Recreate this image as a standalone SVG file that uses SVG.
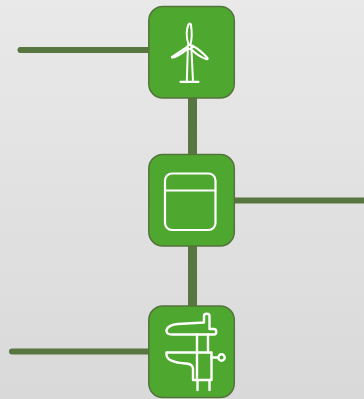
<svg xmlns="http://www.w3.org/2000/svg" width="364" height="399" viewBox="0 0 364 399">
<defs>
<linearGradient id="bg" x1="0" y1="0" x2="0" y2="1"><stop offset="0" stop-color="#e9e9e9"/><stop offset="1" stop-color="#d9d9d9"/></linearGradient>
</defs>
<style>
.wire{stroke:#58763f;fill:none;stroke-linecap:round}
.box{fill:#4ea72e;stroke:#55733d;stroke-width:1.500}
.ic{fill:none;stroke:#fff;stroke-linejoin:round;stroke-linecap:round}
</style>
<rect width="364" height="399" fill="url(#bg)"/>
<g id="connectors">
<path class="wire" stroke-width="6" d="M20.500 50H150"/>
<path class="wire" stroke-width="6" d="M234 200.500H366"/>
<path class="wire" stroke-width="6" d="M12 351.500H150"/>
<path class="wire" stroke-width="9" style="stroke-linecap:butt" d="M192.500 96V156M192.500 244V308"/>
</g>
<g id="node-turbine">
<rect class="box" x="148.800" y="6.500" width="85.500" height="91.500" rx="14"/>
<g class="ic" stroke-width="2">
<circle cx="189.500" cy="47" r="2"/>
<path d="M188.500 44.500C186.500 38 186 30 188.500 24.500C189.500 23 191 23.500 191 25C192 32 192 39 190.500 44.500Z"/>
<path d="M187.500 46.500C182 50 177 54 172.500 56.500C171.500 57 171.500 58 173 57.500C178 56.500 183 52.500 187.500 49Z"/>
<path d="M192 45.500C197 48 203 53 207.500 58C208.300 59 207 59.500 206 59C200 57 195 53 191.500 49.500Z"/>
<path d="M187.800 50L186.800 81.500M191.500 50L193 81.500"/>
<path stroke-width="2.200" d="M180.500 81.800H198.500"/>
</g>
</g>
<g id="node-box">
<rect class="box" x="148.800" y="154.500" width="85.500" height="91.500" rx="14"/>
<g class="ic" stroke-width="2.200">
<rect x="165" y="173.500" width="50.500" height="56.500" rx="7"/>
<path stroke-width="2" d="M165 190.500H215.500"/>
</g>
</g>
<g id="node-caliper">
<rect class="box" x="148.800" y="306" width="85.500" height="91.500" rx="14"/>
<g class="ic" stroke-width="2.400">
<path d="M208 334.500H172C168 334.500 166 333 166.500 330C167.500 326.500 172 324.500 178 324L204 322.500V316C204 313 209.500 313 209.500 316V329H214C217 329 217 334.500 214 334.500H208"/>
<path d="M197 334.500V352.500M208 334.500V352.500"/>
<path d="M197 352.500H166.500V355C167 360 175 363 186 363.500C191 363.800 193 366 193 369V380H211.500V352.500H197"/>
<path d="M197 352.500V380M211.500 357.500H218"/>
<circle cx="221.500" cy="357.500" r="3.200"/>
<path d="M197.500 380V390M209.500 380V390"/>
</g>
</g>
</svg>
